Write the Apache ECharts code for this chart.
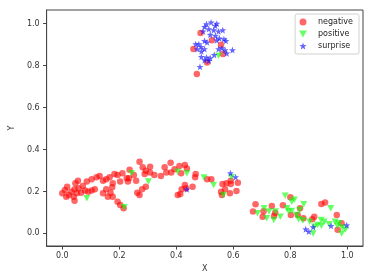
<!DOCTYPE html>
<html><head><meta charset="utf-8">
<script src="https://cdn.jsdelivr.net/npm/echarts@6/dist/echarts.min.js"></script>
<style>html,body{margin:0;padding:0;background:#fff}#c{width:374px;height:280px}</style>
</head><body><div id="c"></div>
<script>
const seriesNames = ['negative', 'positive', 'surprise'];
const xTicks = [0, 0.2, 0.4, 0.6, 0.8, 1.0];
const yTicks = [0, 0.2, 0.4, 0.6, 0.8, 1.0];

const negative = [
 [0.0,0.191],[0.009,0.207],[0.017,0.223],[0.014,0.175],[0.023,0.183],[0.032,0.199],[0.04,0.175],[0.043,0.156],[0.043,0.21],[0.046,0.239],
 [0.055,0.251],[0.051,0.191],[0.057,0.215],[0.066,0.194],[0.072,0.226],[0.08,0.204],[0.086,0.247],[0.091,0.199],[0.103,0.258],[0.103,0.204],
 [0.114,0.21],[0.12,0.268],[0.131,0.274],[0.143,0.251],[0.143,0.191],[0.154,0.258],[0.154,0.21],[0.16,0.175],[0.166,0.268],[0.169,0.194],
 [0.175,0.22],[0.177,0.239],[0.177,0.175],[0.183,0.283],[0.194,0.279],[0.194,0.151],[0.203,0.136],[0.203,0.247],[0.211,0.287],[0.215,0.12],
 [0.226,0.263],[0.23,0.247],[0.236,0.304],[0.234,0.263],[0.251,0.279],[0.259,0.251],[0.271,0.342],[0.263,0.194],[0.271,0.183],[0.28,0.21],
 [0.282,0.315],[0.289,0.283],[0.293,0.223],[0.293,0.299],[0.308,0.318],[0.308,0.29],[0.323,0.279],[0.346,0.274],[0.359,0.315],[0.365,0.29],
 [0.38,0.337],[0.382,0.29],[0.394,0.306],[0.411,0.321],[0.417,0.287],[0.43,0.326],[0.437,0.31],[0.468,0.283],[0.466,0.268],[0.405,0.183],
 [0.414,0.188],[0.419,0.21],[0.43,0.231],[0.434,0.215],[0.457,0.223],
 [0.508,0.258],[0.523,0.258],[0.562,0.236],[0.557,0.199],[0.56,0.183],[0.576,0.239],[0.571,0.21],[0.588,0.191],[0.591,0.251],[0.591,0.236],
 [0.616,0.242],[0.611,0.202],
 [0.678,0.139],[0.669,0.104],[0.703,0.08],[0.706,0.106],[0.735,0.131],[0.747,0.099],[0.743,0.083],[0.774,0.134],[0.8,0.172],[0.834,0.12],
 [0.802,0.088],[0.826,0.088],[0.846,0.072],[0.877,0.068],[0.884,0.08],[0.909,0.14],[0.922,0.147],[0.963,0.088],[0.98,0.049],[0.966,0.017],
 [0.485,0.955],[0.525,0.921],[0.46,0.879],[0.557,0.899],[0.563,0.855],[0.508,0.815],[0.472,0.76]
];
const positive = [
 [0.086,0.168],[0.217,0.125],[0.243,0.287],[0.302,0.247],[0.405,0.294],[0.437,0.287],[0.497,0.266],[0.531,0.231],[0.565,0.183],[0.594,0.268],
 [0.548,0.847],
 [0.685,0.096],[0.708,0.12],[0.717,0.072],[0.725,0.104],[0.742,0.064],[0.748,0.104],[0.765,0.08],[0.782,0.18],[0.788,0.12],[0.805,0.151],
 [0.814,0.16],[0.805,0.107],[0.822,0.088],[0.794,0.104],[0.833,0.112],[0.847,0.139],[0.829,0.068],[0.844,0.061],[0.868,0.056],[0.885,0.032],
 [0.908,0.064],[0.919,0.056],[0.942,0.12],[0.936,0.044],[0.957,0.056],[0.97,0.049],[0.982,0.028],[0.993,0.017],[0.965,0.037],[0.896,0.04],
 [0.88,0.0],[0.98,0.0],[0.909,0.036]
];
const surprise = [
 [0.437,0.21],[0.59,0.287],[0.608,0.268],[0.854,0.02],[0.865,0.009],[0.88,0.03],[0.943,0.036],[0.998,0.039],
 [0.499,0.985],[0.506,0.998],[0.522,1.006],[0.537,0.99],[0.542,1.0],[0.514,0.974],[0.531,0.969],[0.494,0.963],[0.548,0.963],[0.563,0.969],
 [0.519,0.947],[0.537,0.942],[0.542,0.921],[0.551,0.93],[0.567,0.926],[0.574,0.918],[0.499,0.918],[0.468,0.902],[0.479,0.902],[0.487,0.889],
 [0.473,0.879],[0.499,0.879],[0.488,0.868],[0.548,0.879],[0.56,0.883],[0.597,0.874],[0.571,0.874],[0.577,0.858],[0.488,0.842],[0.506,0.839],
 [0.519,0.836],[0.533,0.851],[0.499,0.826],[0.514,0.823],[0.483,0.794],[0.508,0.911]
];

const triDown = 'path://M0,0 L10,0 L5,9 Z';
const star = 'path://M10,0 L12.35,6.76 L19.51,6.91 L13.8,11.24 L15.88,18.09 L10,14 L4.12,18.09 L6.2,11.24 L0.49,6.91 L7.65,6.76 Z';

const chart = echarts.init(document.getElementById('c'), null, {renderer: 'canvas'});
const lineStyle = {color: '#444', width: 1};
chart.setOption({
  animation: false,
  grid: {left: 39, top: 10, right: 11, bottom: 34, show: true, borderColor: '#444', borderWidth: 1},
  xAxis: {
    type: 'value', min: -0.055, max: 1.055,
    axisLine: {show: true, onZero: false, lineStyle: lineStyle},
    splitLine: {show: false},
    name: 'X', nameLocation: 'middle', nameGap: 15,
    nameTextStyle: {fontSize: 8, color: '#333', fontFamily: 'DejaVu Sans'},
    axisTick: {show: true, length: 3.5, lineStyle: lineStyle, customValues: xTicks},
    axisLabel: {customValues: xTicks, fontSize: 8, color: '#333', fontFamily: 'DejaVu Sans', margin: 6,
      formatter: v => v.toFixed(1)}
  },
  yAxis: {
    type: 'value', min: -0.06, max: 1.065,
    axisLine: {show: true, onZero: false, lineStyle: lineStyle},
    splitLine: {show: false},
    name: 'Y', nameLocation: 'middle', nameGap: 25, nameRotate: 90,
    nameTextStyle: {fontSize: 8, color: '#333', fontFamily: 'DejaVu Sans'},
    axisTick: {show: true, length: 3.5, lineStyle: lineStyle, customValues: yTicks},
    axisLabel: {customValues: yTicks, fontSize: 8, color: '#333', fontFamily: 'DejaVu Sans', margin: 7,
      formatter: v => v.toFixed(1)}
  },
  legend: {
    orient: 'vertical', right: 15, top: 14,
    padding: [4, 6, 4, 4], itemGap: 4, itemWidth: 14, itemHeight: 7,
    borderColor: '#d0d0d0', borderWidth: 1, borderRadius: 2, backgroundColor: '#fff',
    textStyle: {fontSize: 8, color: '#222', fontFamily: 'DejaVu Sans', padding: [0, 0, 0, 3]},
    data: seriesNames
  },
  series: [
    {name: seriesNames[0], type: 'scatter', data: negative, symbol: 'circle', symbolSize: 6.5,
      itemStyle: {color: '#ff0000', opacity: 0.6}},
    {name: seriesNames[1], type: 'scatter', data: positive, symbol: triDown, symbolSize: [7, 6.5],
      itemStyle: {color: '#00ff00', opacity: 0.6}},
    {name: seriesNames[2], type: 'scatter', data: surprise, symbol: star, symbolSize: 7,
      itemStyle: {color: '#0000ff', opacity: 0.6}}
  ]
});
</script></body></html>
